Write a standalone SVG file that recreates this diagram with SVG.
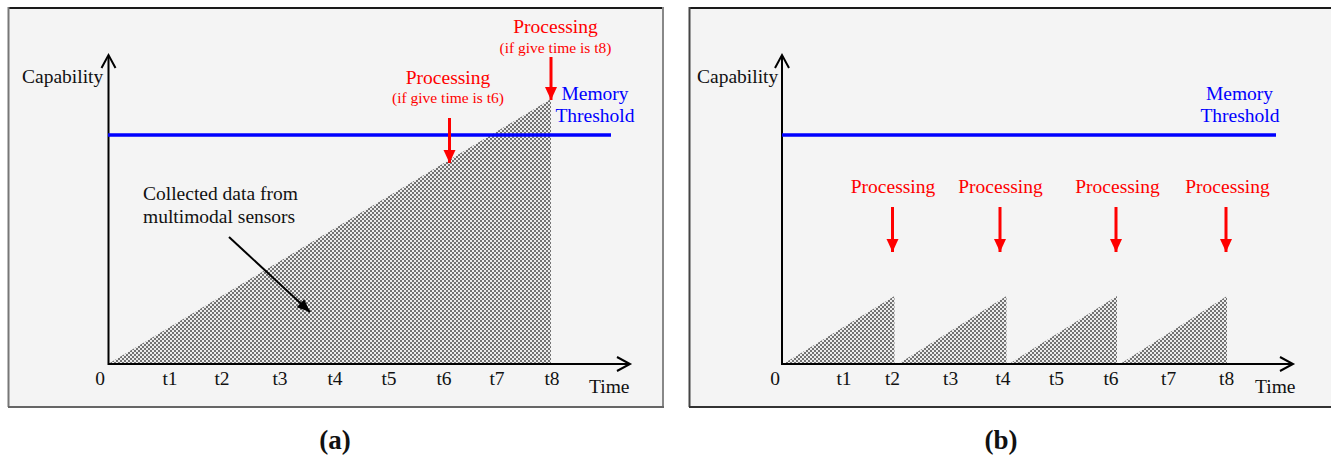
<svg xmlns="http://www.w3.org/2000/svg" width="1331" height="459" viewBox="0 0 1331 459">
<style>
  text { font-family: "Liberation Serif", "Times New Roman", serif; fill: #111; }
  .lbl { font-size: 19.5px; }
  .small { font-size: 15.5px; }
  .red { fill: #ff0000; }
  .blue { fill: #0000ff; }
  .mid { text-anchor: middle; }
  .axis { stroke: #000; stroke-width: 2; fill: none; }
  .head { stroke: #000; stroke-width: 2; fill: none; stroke-linejoin: miter; }
  .thr { stroke: #0000ff; stroke-width: 3.5; }
  .proc { stroke: #ff0000; stroke-width: 3; marker-end: url(#redHead); }
  .data { fill: url(#chk); }
  .panel { fill: #f4f4f4; }
  .cap { font-size: 27px; font-weight: bold; }
</style>
<defs>
  <pattern id="chk" width="4" height="4" patternUnits="userSpaceOnUse">
    <rect width="4" height="4" fill="#ececec"/>
    <rect width="2" height="2" fill="#727272"/>
    <rect x="2" y="2" width="2" height="2" fill="#727272"/>
  </pattern>
  <marker id="redHead" markerUnits="userSpaceOnUse" markerWidth="14" markerHeight="14" viewBox="0 0 14 14" refX="13" refY="7" orient="auto">
    <path d="M0,1 L13,7 L0,13 Z" fill="#ff0000"/>
  </marker>
  <marker id="blackHead" markerUnits="userSpaceOnUse" markerWidth="14" markerHeight="14" viewBox="0 0 14 14" refX="13" refY="7" orient="auto">
    <path d="M0,1.5 L13,7 L0,12.5 Z" fill="#000"/>
  </marker>
</defs>

<rect width="1331" height="459" fill="#ffffff"/>

<!-- Panel (a) -->
<g id="panel-a">
  <rect class="panel" x="8" y="7" width="655" height="400"/>
  <line x1="8" y1="8" x2="663" y2="8" stroke="#1a1a1a" stroke-width="2"/>
  <line x1="8.5" y1="7" x2="8.5" y2="407" stroke="#777" stroke-width="2"/>
  <line x1="663" y1="7" x2="663" y2="407" stroke="#888" stroke-width="2"/>
  <line x1="8" y1="407" x2="664" y2="407" stroke="#666" stroke-width="2"/>

  <g id="a-data">
    <polygon class="data" points="108,364 551,99 551,364"/>
  </g>

  <g id="a-axes">
    <line class="axis" x1="108.5" y1="365" x2="108.5" y2="56"/>
    <polyline class="head" points="101.5,68 108.5,55 115.5,68"/>
    <line class="axis" x1="108" y1="364" x2="629" y2="364"/>
    <polyline class="head" points="617,357 630,364 617,371"/>
  </g>

  <g id="a-threshold">
    <line class="thr" x1="108" y1="135" x2="611" y2="135"/>
    <text class="lbl blue mid" x="595" y="100">Memory</text>
    <text class="lbl blue mid" x="595" y="122">Threshold</text>
  </g>

  <g id="a-connectors">
    <line class="proc" x1="551" y1="57" x2="551" y2="100"/>
    <line class="proc" x1="449.5" y1="118" x2="449.5" y2="163"/>
    <line stroke="#000" stroke-width="2" x1="229" y1="237" x2="310" y2="312" marker-end="url(#blackHead)"/>
  </g>

  <g id="a-labels">
    <text class="lbl" x="22" y="83">Capability</text>
    <text class="lbl red mid" x="555.5" y="33">Processing</text>
    <text class="small red mid" x="555.5" y="53">(if give time is t8)</text>
    <text class="lbl red mid" x="448" y="84">Processing</text>
    <text class="small red mid" x="448" y="103">(if give time is t6)</text>
    <text class="lbl" x="143" y="200">Collected data from</text>
    <text class="lbl" x="143" y="223">multimodal sensors</text>
  </g>

  <g id="a-ticks">
    <text class="lbl mid" x="100" y="385">0</text>
    <text class="lbl mid" x="170" y="385">t1</text>
    <text class="lbl mid" x="222" y="385">t2</text>
    <text class="lbl mid" x="280" y="385">t3</text>
    <text class="lbl mid" x="335" y="385">t4</text>
    <text class="lbl mid" x="389" y="385">t5</text>
    <text class="lbl mid" x="444" y="385">t6</text>
    <text class="lbl mid" x="497" y="385">t7</text>
    <text class="lbl mid" x="552" y="385">t8</text>
    <text class="lbl" x="589" y="393">Time</text>
  </g>
  <text class="cap mid" x="335" y="449">(a)</text>
</g>

<!-- Panel (b) -->
<g id="panel-b">
  <rect class="panel" x="689" y="7" width="645" height="400"/>
  <line x1="689" y1="8" x2="1334" y2="8" stroke="#1a1a1a" stroke-width="2"/>
  <line x1="689.5" y1="7" x2="689.5" y2="407" stroke="#444" stroke-width="2"/>
  <line x1="689" y1="407" x2="1334" y2="407" stroke="#333" stroke-width="2"/>

  <g id="b-data">
    <polygon class="data" points="783,364 894.5,296 894.5,364"/>
    <polygon class="data" points="898,364 1006.5,296 1006.5,364"/>
    <polygon class="data" points="1009,364 1117,296 1117,364"/>
    <polygon class="data" points="1120,364 1227,296 1227,364"/>
  </g>

  <g id="b-axes">
    <line class="axis" x1="782" y1="365" x2="782" y2="56"/>
    <polyline class="head" points="775,68 782,55 789,68"/>
    <line class="axis" x1="782" y1="364" x2="1292" y2="364"/>
    <polyline class="head" points="1280,357 1293,364 1280,371"/>
  </g>

  <g id="b-threshold">
    <line class="thr" x1="782" y1="135" x2="1276" y2="135"/>
    <text class="lbl blue mid" x="1239.5" y="100">Memory</text>
    <text class="lbl blue mid" x="1240" y="122">Threshold</text>
  </g>

  <g id="b-connectors">
    <line class="proc" x1="892.5" y1="207" x2="892.5" y2="252"/>
    <line class="proc" x1="1000" y1="207" x2="1000" y2="252"/>
    <line class="proc" x1="1116" y1="207" x2="1116" y2="252"/>
    <line class="proc" x1="1226" y1="207" x2="1226" y2="252"/>
  </g>

  <g id="b-labels">
    <text class="lbl" x="697" y="83">Capability</text>
    <text class="lbl red mid" x="893" y="193">Processing</text>
    <text class="lbl red mid" x="1000.5" y="193">Processing</text>
    <text class="lbl red mid" x="1117.5" y="193">Processing</text>
    <text class="lbl red mid" x="1227.5" y="193">Processing</text>
  </g>

  <g id="b-ticks">
    <text class="lbl mid" x="775" y="385">0</text>
    <text class="lbl mid" x="844" y="385">t1</text>
    <text class="lbl mid" x="892.5" y="385">t2</text>
    <text class="lbl mid" x="950.6" y="385">t3</text>
    <text class="lbl mid" x="1003" y="385">t4</text>
    <text class="lbl mid" x="1056.5" y="385">t5</text>
    <text class="lbl mid" x="1111" y="385">t6</text>
    <text class="lbl mid" x="1168.6" y="385">t7</text>
    <text class="lbl mid" x="1226.7" y="385">t8</text>
    <text class="lbl" x="1255" y="393">Time</text>
  </g>
  <text class="cap mid" x="1001" y="449">(b)</text>
</g>
</svg>
